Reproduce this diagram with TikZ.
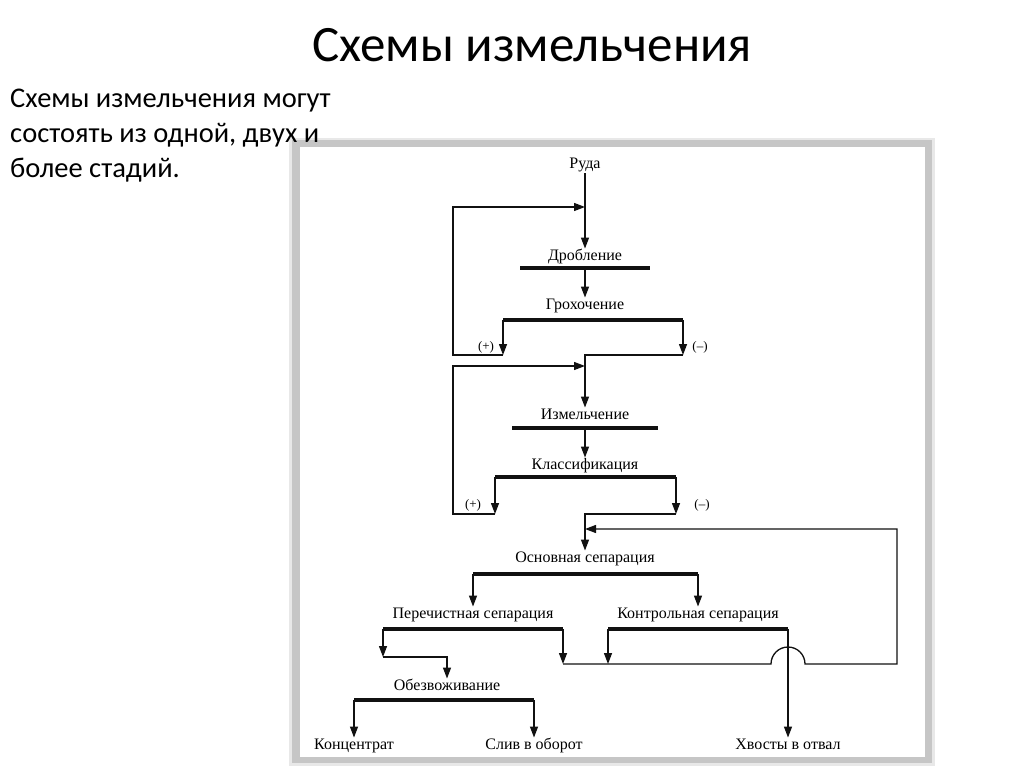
\documentclass[tikz,border=0pt]{standalone}
\usepackage{fontspec}
\setmainfont{Carlito}
\newfontfamily\schemeFont{Liberation Serif}
\usetikzlibrary{arrows.meta}

\begin{document}
\begin{tikzpicture}[x=1pt, y=-1pt,
    flow/.style={draw=lineColour, line width=1.3pt, -{Triangle[length=11pt,width=8pt]}},
    bar/.style={draw=lineColour, line width=3.5pt},
    lbl/.style={font=\schemeFont\fontsize{16}{18}\selectfont, inner sep=1pt, text height=11pt, text depth=3.5pt},
    sign/.style={font=\schemeFont\fontsize{13}{15}\selectfont, inner sep=1pt}]
    \definecolor{lineColour}{HTML}{111111}
    \definecolor{bandColour}{HTML}{C6C6C6}
    \definecolor{shadeColour}{HTML}{E8E8E8}

    \useasboundingbox (0,0) rectangle (1024,767);

    % scanned frame
    \fill[shadeColour] (289,138) rectangle (935,766);
    \fill[bandColour] (292,140) rectangle (932,763);
    \fill[white] (300,147) rectangle (925,757);

    % slide text
    \node[font=\fontsize{51}{61}\selectfont] (title) at (532,45) {Схемы измельчения};
    \node[anchor=north west, align=left, inner sep=0pt, font=\fontsize{28.5}{35}\selectfont] (intro) at (10,89)
        {Схемы измельчения могут\\состоять из одной, двух и\\более стадий.};

    % stages
    \node[lbl] (ruda) at (585,165) {Руда};
    \node[lbl] (drob) at (585,257) {Дробление};
    \node[lbl] (groh) at (585,306) {Грохочение};
    \node[lbl] (izm) at (585,416) {Измельчение};
    \node[lbl] (klass) at (585,466) {Классификация};
    \node[lbl] (osn) at (585,559) {Основная сепарация};
    \node[lbl] (perech) at (473,615) {Перечистная сепарация};
    \node[lbl] (kontr) at (698,615) {Контрольная сепарация};
    \node[lbl] (obezv) at (447,687) {Обезвоживание};
    \node[lbl] (konc) at (354,746) {Концентрат};
    \node[lbl] (sliv) at (534,746) {Слив в оборот};
    \node[lbl] (hvost) at (788,746) {Хвосты в отвал};

    \node[sign] (plusA) at (486,347) {(+)};
    \node[sign] (minusA) at (700,347) {(–)};
    \node[sign] (plusB) at (473,505) {(+)};
    \node[sign] (minusB) at (702,505) {(–)};

    % bar ends and corners
    \coordinate (drobL) at (520,268);  \coordinate (drobM) at (585,268);  \coordinate (drobR) at (650,268);
    \coordinate (grohL) at (503,320);  \coordinate (grohR) at (683,320);
    \coordinate (izmL) at (512,428);   \coordinate (izmM) at (585,428);   \coordinate (izmR) at (658,428);
    \coordinate (klassL) at (495,477); \coordinate (klassR) at (676,477);
    \coordinate (osnL) at (473,574);   \coordinate (osnR) at (698,574);
    \coordinate (perL) at (383,629);   \coordinate (perR) at (563,629);
    \coordinate (konL) at (608,629);   \coordinate (konR) at (788,629);
    \coordinate (obL) at (354,700);    \coordinate (obR) at (534,700);

    \coordinate (feedA) at (585,207);  \coordinate (loopA) at (453,355);
    \coordinate (plusOut) at (503,355); \coordinate (minusOut) at (683,355); \coordinate (joinA) at (585,355);
    \coordinate (feedB) at (585,366);  \coordinate (loopB) at (453,514);
    \coordinate (plusOutB) at (495,514); \coordinate (minusOutB) at (676,514); \coordinate (joinB) at (585,514);
    \coordinate (feedC) at (585,529);
    \coordinate (perDrop) at (383,657); \coordinate (obezvIn) at (447,657);
    \coordinate (perOut) at (563,664); \coordinate (konOut) at (608,664);
    \coordinate (hopL) at (771,664);   \coordinate (retB) at (897,664);  \coordinate (retT) at (897,529);

    % bars
    \foreach \a/\b in {drobL/drobR, grohL/grohR, izmL/izmR, klassL/klassR, osnL/osnR, perL/perR, konL/konR, obL/obR}
        \draw[bar] (\a) -- (\b);

    % crushing circuit
    \draw[flow] (ruda) -- (drob);
    \draw[flow] (drobM) -- (groh);
    \draw[flow] (grohL) -- (plusOut);
    \draw[flow] (plusOut) -- (loopA) |- (feedA);
    \draw[flow] (grohR) -- (minusOut);
    \draw[flow] (minusOut) -- (joinA) -- (izm);

    % grinding circuit
    \draw[flow] (izmM) -- (klass);
    \draw[flow] (klassL) -- (plusOutB);
    \draw[flow] (plusOutB) -- (loopB) |- (feedB);
    \draw[flow] (klassR) -- (minusOutB);
    \draw[flow] (minusOutB) -- (joinB) -- (osn);

    % separation
    \draw[flow] (osnL) -- (perech);
    \draw[flow] (osnR) -- (kontr);
    \draw[flow] (perL) -- (perDrop);
    \draw[flow] (perDrop) -- (obezvIn) -- (obezv);
    \draw[flow] (perR) -- (perOut);
    \draw[flow] (konL) -- (konOut);
    \draw[flow] (konR) -- (hvost);
    \draw[flow] (perOut) -- (hopL) arc[start angle=180, end angle=360, radius=17] -- (retB) -- (retT) -- (feedC);

    % dewatering
    \draw[flow] (obL) -- (konc);
    \draw[flow] (obR) -- (sliv);

\end{tikzpicture}
\end{document}
